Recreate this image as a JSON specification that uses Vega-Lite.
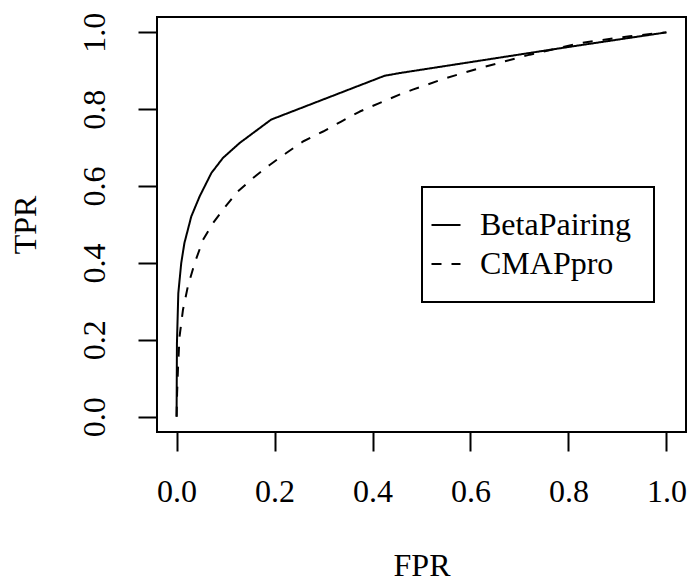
{
  "$schema": "https://vega.github.io/schema/vega-lite/v6.json",
  "width": 529,
  "height": 415,
  "autosize": {"type": "none"},
  "padding": {"left": 157, "top": 17, "right": 3, "bottom": 148},
  "background": "white",
  "config": {
    "font": "Liberation Serif",
    "view": {"stroke": "black", "strokeWidth": 2},
    "axis": {
      "grid": false,
      "domain": false,
      "ticks": true,
      "tickSize": 19,
      "tickWidth": 2,
      "tickColor": "black",
      "labelFont": "Liberation Serif",
      "labelFontSize": 32,
      "labelColor": "black",
      "labelFlush": false,
      "labelOverlap": false,
      "titleFont": "Liberation Serif",
      "titleFontSize": 32,
      "titleFontWeight": "normal",
      "titleColor": "black"
    },
    "legend": {
      "orient": "none",
      "legendX": 265,
      "legendY": 170,
      "strokeColor": "black",
      "strokeWidth": 2,
      "fillColor": "white",
      "padding": 22,
      "rowPadding": 7,
      "symbolType": "stroke",
      "symbolSize": 841,
      "symbolStrokeColor": "black",
      "symbolStrokeWidth": 2,
      "symbolOffset": -14,
      "labelOffset": 18,
      "labelFont": "Liberation Serif",
      "labelFontSize": 32,
      "labelColor": "black",
      "labelLimit": 400
    }
  },
  "data": {
    "values": [
      {"method": "BetaPairing", "fpr": 0.0, "tpr": 0.0},
      {"method": "BetaPairing", "fpr": 0.0007, "tpr": 0.191},
      {"method": "BetaPairing", "fpr": 0.0035, "tpr": 0.321},
      {"method": "BetaPairing", "fpr": 0.0095, "tpr": 0.40},
      {"method": "BetaPairing", "fpr": 0.016, "tpr": 0.452},
      {"method": "BetaPairing", "fpr": 0.030, "tpr": 0.521},
      {"method": "BetaPairing", "fpr": 0.047, "tpr": 0.573},
      {"method": "BetaPairing", "fpr": 0.071, "tpr": 0.634},
      {"method": "BetaPairing", "fpr": 0.0945, "tpr": 0.673},
      {"method": "BetaPairing", "fpr": 0.1286, "tpr": 0.712},
      {"method": "BetaPairing", "fpr": 0.193, "tpr": 0.773},
      {"method": "BetaPairing", "fpr": 0.4245, "tpr": 0.887},
      {"method": "BetaPairing", "fpr": 0.455, "tpr": 0.894},
      {"method": "BetaPairing", "fpr": 0.80, "tpr": 0.962},
      {"method": "BetaPairing", "fpr": 1.0, "tpr": 1.0},
      {"method": "CMAPpro", "fpr": 0.0, "tpr": 0.0},
      {"method": "CMAPpro", "fpr": 0.001, "tpr": 0.06},
      {"method": "CMAPpro", "fpr": 0.003, "tpr": 0.130},
      {"method": "CMAPpro", "fpr": 0.006, "tpr": 0.208},
      {"method": "CMAPpro", "fpr": 0.013, "tpr": 0.278},
      {"method": "CMAPpro", "fpr": 0.023, "tpr": 0.339},
      {"method": "CMAPpro", "fpr": 0.037, "tpr": 0.40},
      {"method": "CMAPpro", "fpr": 0.054, "tpr": 0.46},
      {"method": "CMAPpro", "fpr": 0.074, "tpr": 0.503},
      {"method": "CMAPpro", "fpr": 0.10, "tpr": 0.547},
      {"method": "CMAPpro", "fpr": 0.125, "tpr": 0.586},
      {"method": "CMAPpro", "fpr": 0.156, "tpr": 0.621},
      {"method": "CMAPpro", "fpr": 0.19, "tpr": 0.655},
      {"method": "CMAPpro", "fpr": 0.224, "tpr": 0.686},
      {"method": "CMAPpro", "fpr": 0.258, "tpr": 0.716},
      {"method": "CMAPpro", "fpr": 0.299, "tpr": 0.742},
      {"method": "CMAPpro", "fpr": 0.336, "tpr": 0.768},
      {"method": "CMAPpro", "fpr": 0.374, "tpr": 0.794},
      {"method": "CMAPpro", "fpr": 0.414, "tpr": 0.816},
      {"method": "CMAPpro", "fpr": 0.455, "tpr": 0.838},
      {"method": "CMAPpro", "fpr": 0.482, "tpr": 0.851},
      {"method": "CMAPpro", "fpr": 0.55, "tpr": 0.881},
      {"method": "CMAPpro", "fpr": 0.619, "tpr": 0.907},
      {"method": "CMAPpro", "fpr": 0.721, "tpr": 0.942},
      {"method": "CMAPpro", "fpr": 0.823, "tpr": 0.972},
      {"method": "CMAPpro", "fpr": 0.925, "tpr": 0.990},
      {"method": "CMAPpro", "fpr": 1.0, "tpr": 1.0}
    ]
  },
  "mark": {"type": "line", "color": "black", "strokeWidth": 2, "strokeJoin": "round"},
  "encoding": {
    "x": {
      "field": "fpr",
      "type": "quantitative",
      "scale": {"domain": [-0.04, 1.04], "nice": false, "zero": false},
      "axis": {
        "title": "FPR",
        "values": [0, 0.2, 0.4, 0.6, 0.8, 1.0],
        "format": ".1f",
        "labelFont": "Liberation Serif",
        "labelBaseline": "alphabetic",
        "labelPadding": 50,
        "titleBaseline": "alphabetic",
        "titleAlign": "center",
        "titleX": 264.5,
        "titleY": 143
      }
    },
    "y": {
      "field": "tpr",
      "type": "quantitative",
      "scale": {"domain": [-0.04, 1.04], "nice": false, "zero": false},
      "axis": {
        "title": "TPR",
        "values": [0, 0.2, 0.4, 0.6, 0.8, 1.0],
        "format": ".1f",
        "labelFont": "Liberation Serif",
        "labelAngle": 270,
        "labelAlign": "center",
        "labelBaseline": "alphabetic",
        "labelPadding": 34,
        "titleAngle": 270,
        "titleBaseline": "alphabetic",
        "titleAlign": "center",
        "titleX": -121.5,
        "titleY": 207.5
      }
    },
    "strokeDash": {
      "field": "method",
      "type": "nominal",
      "scale": {"domain": ["BetaPairing", "CMAPpro"], "range": [[1, 0], [10, 10]]},
      "legend": {"title": null}
    }
  }
}
